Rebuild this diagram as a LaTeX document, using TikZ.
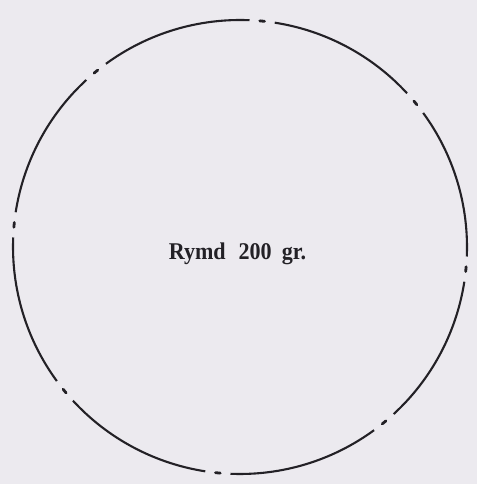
\documentclass[tikz,border=0pt]{standalone}
\usepackage{fontspec}
\setmainfont{Liberation Serif}
\usetikzlibrary{calc}
\definecolor{paper}{RGB}{236,234,239}
\definecolor{ink}{RGB}{35,33,38}
\tikzset{
  rim/.style={draw=ink, line width=2.1pt, line cap=butt},
  markdot/.style={draw=ink, line width=2.8pt, line cap=round},
  label/.style={text=ink, font=\bfseries\fontsize{24}{28}\selectfont, inner sep=0pt, anchor=base, xscale=0.92}
}
\begin{document}
\begin{tikzpicture}[x=1pt,y=1pt]
  \fill[paper] (0,0) rectangle (477,484);
  \useasboundingbox (0,0) rectangle (477,484);
  \coordinate (c) at (240,237);
  \foreach \i in {0,...,7}{
    \pgfmathsetmacro{\a}{84.4-45*\i}
    % long segment from this mark to the next one (clockwise)
    \draw[rim] ($(c)+(\a-3.2:227)$) arc[start angle=\a-3.2, end angle=\a-45+3.2, radius=227];
    % short dot of the mark
    \draw[markdot] ($(c)+(\a+0.6:227)$) arc[start angle=\a+0.6, end angle=\a-0.6, radius=227];
  }
  \node[label] (t) at (237.5,224) {Rymd\hspace{14pt}200\hspace{11pt}gr.};
\end{tikzpicture}
\end{document}
